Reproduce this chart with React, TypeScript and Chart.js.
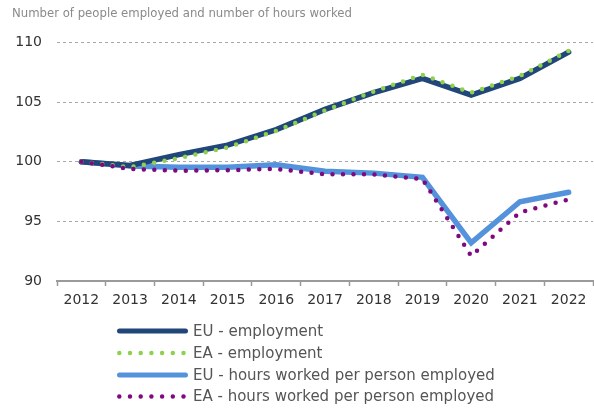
import React, { useEffect, useRef } from "react";
import { Chart, registerables } from "chart.js";

Chart.register(...registerables);

const titleText = "Number of people employed and number of hours worked";
const years = ["2012", "2013", "2014", "2015", "2016", "2017", "2018", "2019", "2020", "2021", "2022"];
const euEmployment = [100, 99.7, 100.6, 101.4, 102.7, 104.4, 105.8, 107.0, 105.6, 107.0, 109.2];
const eaEmployment = [100, 99.55, 100.3, 101.2, 102.6, 104.3, 105.9, 107.3, 105.8, 107.2, 109.3];
const euHours = [100, 99.65, 99.55, 99.55, 99.75, 99.2, 99.05, 98.7, 93.2, 96.65, 97.45];
const eaHours = [100, 99.4, 99.25, 99.3, 99.4, 98.95, 98.95, 98.55, 92.1, 95.75, 96.85];
const seriesLabels = [
  "EU - employment",
  "EA - employment",
  "EU - hours worked per person employed",
  "EA - hours worked per person employed",
];

const NAVY = "#21467a";
const GREEN = "#8fd14f";
const LIGHTBLUE = "#5592dc";
const PURPLE = "#7d0a7e";
const FONT = "'DejaVu Sans', sans-serif";

const legendPlugin = {
  id: "customLegend",
  afterDraw(chart: any) {
    const ctx = chart.ctx;
    const rowY = [331, 353, 375, 396.5];
    chart.data.datasets.forEach((ds: any, i: number) => {
      const y = rowY[i];
      const dotted = !!(ds.borderDash && ds.borderDash.length);
      ctx.save();
      ctx.strokeStyle = ds.borderColor;
      ctx.lineWidth = dotted ? 4.5 : 5;
      ctx.lineCap = "round";
      ctx.setLineDash(dotted ? [0, 10.7] : []);
      ctx.beginPath();
      ctx.moveTo(dotted ? 119.3 : 119.5, y);
      ctx.lineTo(dotted ? 184 : 185.5, y);
      ctx.stroke();
      ctx.restore();
      ctx.save();
      ctx.fillStyle = "#555555";
      ctx.font = "15px " + FONT;
      ctx.textBaseline = "middle";
      ctx.textAlign = "left";
      ctx.fillText(ds.label, 193, y + 1);
      ctx.restore();
    });
  },
};

export default function App() {
  const ref = useRef<HTMLCanvasElement | null>(null);
  useEffect(() => {
    if (!ref.current) return;
    const chart = new Chart(ref.current, {
      type: "line",
      data: {
        labels: years,
        datasets: [
          {
            label: seriesLabels[0],
            data: euEmployment,
            borderColor: NAVY,
            borderWidth: 5.5,
            borderCapStyle: "round",
            pointRadius: 0,
            tension: 0,
            order: 3,
          },
          {
            label: seriesLabels[1],
            data: eaEmployment,
            borderColor: GREEN,
            borderWidth: 4.5,
            borderDash: [0, 10.5],
            borderCapStyle: "round",
            pointRadius: 0,
            tension: 0,
            order: 2,
          },
          {
            label: seriesLabels[2],
            data: euHours,
            borderColor: LIGHTBLUE,
            borderWidth: 5.5,
            borderCapStyle: "round",
            pointRadius: 0,
            tension: 0,
            order: 4,
          },
          {
            label: seriesLabels[3],
            data: eaHours,
            borderColor: PURPLE,
            borderWidth: 4.5,
            borderDash: [0, 10.5],
            borderCapStyle: "round",
            pointRadius: 0,
            tension: 0,
            order: 1,
          },
        ] as any,
      },
      options: {
        animation: false,
        responsive: false,
        maintainAspectRatio: false,
        layout: { padding: { left: 12, right: 1, top: 0, bottom: 100 } },
        plugins: {
          legend: { display: false },
          tooltip: { enabled: false },
          title: {
            display: true,
            text: titleText,
            align: "start",
            color: "#8a8a8a",
            font: { family: "'DejaVu Sans Condensed', 'DejaVu Sans', sans-serif", size: 13, weight: "normal" },
            padding: { top: 6, bottom: 21 },
          },
        },
        scales: {
          x: {
            offset: true,
            afterFit: (s: any) => {
              s.height = 28;
            },
            grid: {
              drawOnChartArea: false,
              drawTicks: true,
              tickLength: 5,
              tickColor: "#9a9a9a",
              tickWidth: 1.5,
              offset: true,
            },
            border: { display: true, color: "#9a9a9a", width: 2 },
            ticks: {
              color: "#333333",
              font: { family: FONT, size: 14 },
              padding: 6,
              maxRotation: 0,
            },
          },
          y: {
            min: 90,
            max: 110,
            afterFit: (s: any) => {
              s.width = 45;
            },
            grid: {
              drawTicks: false,
              color: (c: any) => (c.tick && c.tick.value === 90 ? "rgba(0,0,0,0)" : "#a8a8a8"),
              lineWidth: 1,
            },
            border: { display: false, dash: [3, 3] },
            ticks: {
              stepSize: 5,
              color: "#333333",
              font: { family: FONT, size: 14 },
              padding: 15,
            },
          },
        },
      },
      plugins: [legendPlugin],
    } as any);
    return () => chart.destroy();
  }, []);
  return (
    <div style={{ position: "absolute", left: 0, top: 0, width: 594, height: 409, background: "#fff" }}>
      <canvas ref={ref} width={594} height={409} style={{ width: 594, height: 409, display: "block" }} />
    </div>
  );
}
